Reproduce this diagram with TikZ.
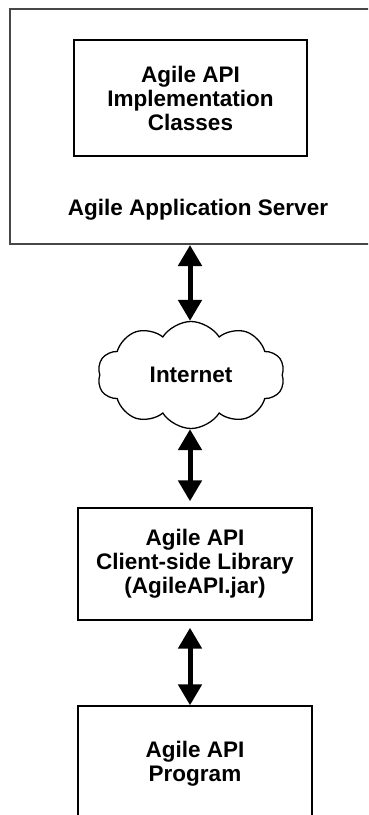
\documentclass[tikz,border=0pt]{standalone}
\usepackage{fontspec}
\setmainfont{Liberation Sans}
\usetikzlibrary{arrows.meta,shapes.symbols}
\begin{document}
\begin{tikzpicture}[x=1pt,y=-1pt,
  box/.style={draw=black,line width=1.4pt,rectangle,inner sep=0pt,minimum width=234pt},
  lbl/.style={font=\fontsize{22.5}{24}\selectfont\bfseries,align=center,inner sep=0pt},
  biarrow/.style={line width=5pt,{Triangle[width=23pt,length=21pt]}-{Triangle[width=23pt,length=21pt]}}]
\useasboundingbox (0,0) rectangle (368,815);
\clip (0,0) rectangle (368,815);
% outer server box (runs past the right edge)
\node[draw=black!72,line width=2pt,rectangle,inner sep=0pt,minimum width=392pt,minimum height=235pt,anchor=north west] (server) at (9,8) {};
\node[box,minimum width=233pt,minimum height=116pt,lbl] (impl) at (190.5,98) {Agile API\\Implementation\\Classes};
\node[lbl] (srvlbl) at (198,210) {Agile Application Server};
% cloud
\node[cloud,draw=black,line width=1.3pt,cloud puffs=10,cloud puff arc=115,aspect=1.75,minimum width=187pt,minimum height=107pt,inner sep=0pt,lbl] (cloud) at (191,375) {Internet};
% client library
\node[box,minimum height=112pt,lbl] (lib) at (195,564) {Agile API\\Client-side Library\\(AgileAPI.jar)};
% program
\node[box,minimum height=116pt,lbl] (prog) at (195,764) {Agile API\\Program};
\coordinate (ax) at (190,0);
\draw[biarrow] (server.south -| ax) -- (cloud.north -| ax);
\draw[biarrow] (cloud.south -| ax) -- ([yshift=6pt]lib.north -| ax);
\draw[biarrow] ([yshift=-7pt]lib.south -| ax) -- (prog.north -| ax);
\end{tikzpicture}
\end{document}
